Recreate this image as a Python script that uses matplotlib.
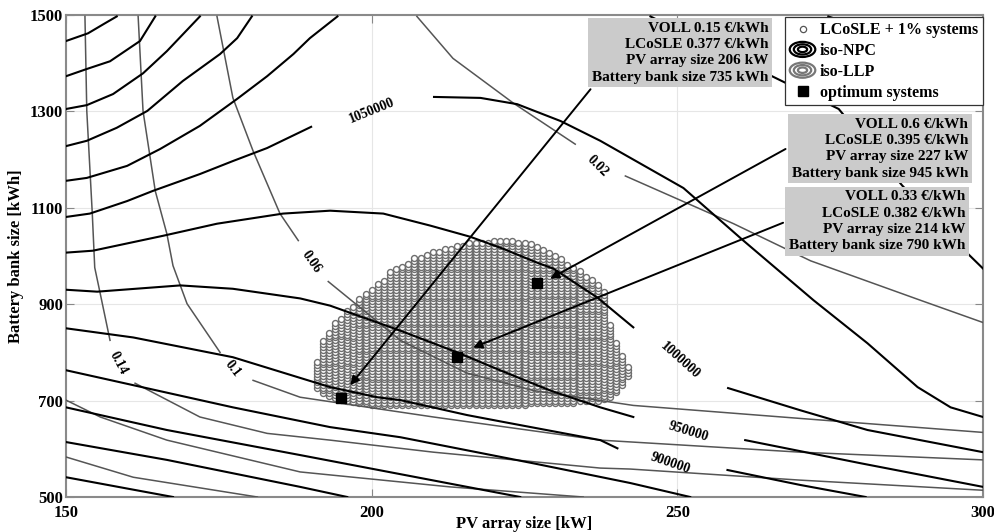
import numpy as np
import matplotlib
matplotlib.use("Agg")
import matplotlib.pyplot as plt
from matplotlib.lines import Line2D
from matplotlib.patches import Ellipse
from matplotlib.legend_handler import HandlerBase

plt.rcParams['font.family'] = ['Liberation Serif', 'DejaVu Serif']
plt.rcParams['font.weight'] = 'bold'

# iso-NPC curves (PV kW, battery kWh)
npc1 = [(150, 1446), (153.6, 1462), (156.4, 1483), (158.3, 1497)]
npc2 = [(150, 1373), (153.4, 1388), (157.2, 1404), (162.1, 1446), (164.6, 1497)]
npc3 = [(150, 1305), (153.4, 1313), (157.7, 1336), (162.6, 1379), (166.5, 1425), (171.9, 1497)]
npc4 = [(150, 1228), (153.4, 1239), (158.3, 1266), (163.3, 1301), (169.1, 1363), (175.2, 1419),
        (178, 1452), (180.4, 1497)]
npc5 = [(150, 1156), (153.4, 1162), (160, 1187), (165.4, 1222), (171.9, 1270), (178, 1326),
        (182.9, 1373), (187.2, 1419), (189.9, 1452), (194.4, 1497)]
npc_1050000a = [(150, 1081), (153.9, 1088), (160, 1114), (164.2, 1135), (171.9, 1170),
                (177.3, 1197), (182.9, 1224), (190.1, 1268)]
npc_1050000b = [(210.2, 1330), (217.8, 1328), (223.8, 1315), (230.9, 1280), (237.4, 1239),
                (251, 1141), (260.8, 1032), (272.3, 908), (281.1, 819), (289.3, 728),
                (294.7, 686), (300, 666)]
npc_1000000a = [(150, 1007), (154.4, 1011), (165.9, 1042), (174.7, 1067), (185.5, 1088),
                (193.2, 1094), (201.9, 1088), (209.6, 1063), (216.1, 1040), (221.5, 1015),
                (227.1, 986), (229.7, 974), (236.9, 914), (242.8, 852)]
npc_1000000b = [(258.3, 726), (270.1, 680), (281.1, 639), (300, 593)]
npc_950000a = [(150, 930), (155.1, 926), (168.7, 939), (177.3, 932), (188.3, 912), (193.2, 897),
               (204.7, 845), (214, 800), (221, 763), (229.2, 721), (237.4, 686), (242.8, 666)]
npc_950000b = [(261.1, 618), (280, 570), (300, 521)]
npc_900000a = [(150, 850), (161, 831), (177.3, 790), (193.2, 728), (200.9, 707), (204.7, 701),
               (215.6, 670), (221, 657), (237.4, 618), (240.2, 601)]
npc_900000b = [(258.2, 556), (270.1, 525), (280.8, 500)]
npc10 = [(150, 763), (161, 732), (177.3, 686), (193.2, 645), (204.7, 624), (226.4, 570),
         (242.3, 529), (252.1, 500)]
npc11 = [(150, 686), (166.5, 639), (188.3, 587), (224.3, 500)]
npc12 = [(150, 614), (166.5, 577), (188.3, 521), (196, 500)]
npc13 = [(150, 541), (167.5, 500)]
npc14 = [(245.6, 1497), (276.4, 1305), (286.8, 1146), (297.5, 1005), (300, 974)]
npc15 = [(274.7, 1497), (286.5, 1446), (300, 1392)]

# iso-LLP curves
llp_014a = [(153.1, 1497), (153.4, 1301), (154.3, 1088), (154.7, 976), (155.6, 922), (157.2, 825)]
llp_014b = [(161.3, 736), (171.9, 666), (182.9, 632), (193.2, 618), (210.1, 593), (237.4, 560),
            (242.3, 558), (270.1, 535), (300, 514)]
llp_01a = [(161.8, 1497), (162.6, 1301), (164.6, 1135), (166.5, 1046), (167.5, 980),
           (169.8, 901), (175.2, 800)]
llp_01b = [(180.6, 742), (188.3, 707), (210.1, 666), (237.4, 618), (270.1, 593), (300, 577)]
llp_006a = [(174.7, 1497), (177.3, 1328), (180.6, 1218), (185, 1088), (188, 1032)]
llp_006b = [(192.9, 947), (204.7, 825), (215.6, 757), (226.4, 721), (242.8, 690), (270.1, 663),
            (300, 634)]
llp_002a = [(207.4, 1497), (213.3, 1410), (223.2, 1317), (233.3, 1232)]
llp_002b = [(241.5, 1166), (259.2, 1067), (271.8, 990), (289.8, 908), (300, 862)]
llp5 = [(150, 701), (155.6, 666), (166.5, 618), (188.3, 552), (212.8, 521), (234.6, 500)]
llp6 = [(150, 583), (161, 541), (181.3, 500)]

# systems within 1% of the minimum LCoSLE: battery range for each PV size
pv_cols = list(range(191, 243))
batt_top = [783, 825, 843, 862, 874, 885, 897, 910, 922, 934, 943, 953, 966, 974, 982, 988,
            997, 1001, 1005, 1009, 1013, 1017, 1019, 1021, 1023, 1026, 1028, 1030, 1030, 1032,
            1032, 1032, 1032, 1030, 1028, 1026, 1021, 1015, 1009, 1003, 994, 986, 978, 970,
            961, 953, 943, 928, 860, 821, 794, 773]
batt_bot = [726, 715, 709, 705, 701, 699, 697, 694, 694] + [690] * 26 + [694] * 8 + \
           [699] * 4 + [703, 707, 717, 732, 752]
batt_step = 6

# optimum systems
opt_pv = [195, 214, 227]
opt_batt = [705, 790, 945]

box_texts = ["VOLL 0.15 €/kWh\nLCoSLE 0.377 €/kWh\nPV array size 206 kW\nBattery bank size 735 kWh",
             "VOLL 0.6 €/kWh\nLCoSLE 0.395 €/kWh\nPV array size 227 kW\nBattery bank size 945 kWh",
             "VOLL 0.33 €/kWh\nLCoSLE 0.382 €/kWh\nPV array size 214 kW\nBattery bank size 790 kWh"]

npc_lines = [npc1, npc2, npc3, npc4, npc5, npc_1050000a, npc_1050000b, npc_1000000a,
             npc_1000000b, npc_950000a, npc_950000b, npc_900000a, npc_900000b, npc10, npc11,
             npc12, npc13, npc14, npc15]
llp_lines = [llp_014a, llp_014b, llp_01a, llp_01b, llp_006a, llp_006b, llp_002a, llp_002b,
             llp5, llp6]


class HandlerRings(HandlerBase):
    def __init__(self, color):
        HandlerBase.__init__(self)
        self.color = color

    def create_artists(self, legend, orig_handle, xdescent, ydescent, width, height,
                       fontsize, trans):
        cx = 0.5 * width - xdescent
        cy = 0.5 * height - ydescent
        out = []
        for s in (1.0, 0.68, 0.36):
            e = Ellipse((cx, cy), width * s, height * 1.35 * s, fill=False,
                        ec=self.color, lw=1.6, transform=trans)
            out.append(e)
        return out


fig = plt.figure(figsize=(9.95, 5.32), dpi=100)
ax = fig.add_axes([66 / 995, 35 / 532, 917 / 995, 482 / 532])

ax.set_xlim(150, 300)
ax.set_ylim(500, 1500)
ax.set_xticks([150, 200, 250, 300])
ax.set_yticks([500, 700, 900, 1100, 1300, 1500])
ax.grid(True, color='#e6e6e6', lw=0.8)
ax.set_axisbelow(True)
ax.tick_params(direction='in', length=6, top=True, right=True, color='#888888',
               labelsize=12, pad=2)
ax.tick_params(axis='x', pad=6)
for sp in ax.spines.values():
    sp.set_color('#8a8a8a')
    sp.set_linewidth(1.5)

# LCoSLE + 1% blob
bx, by = [], []
for pv, lo, hi in zip(pv_cols, batt_bot, batt_top):
    vals = np.arange(lo, hi + 1e-6, batt_step)
    bx.extend([pv] * len(vals))
    by.extend(vals)
ax.plot(bx, by, ls='', marker='o', ms=4.3, mfc='white', mec='#6e6e6e', mew=1.0, zorder=2)

for c in llp_lines:
    xs, ys = zip(*c)
    ax.plot(xs, ys, color='#555555', lw=1.1, zorder=3)
for c in npc_lines:
    xs, ys = zip(*c)
    ax.plot(xs, ys, color='black', lw=1.5, zorder=3)

# contour labels
lab_kw = dict(fontsize=10, fontweight='bold', ha='center', va='center', zorder=4)
ax.text(200.1, 1301, '1050000', rotation=22, **lab_kw)
ax.text(250.5, 783, '1000000', rotation=-42, **lab_kw)
ax.text(251.8, 636, '950000', rotation=-17, **lab_kw)
ax.text(248.9, 570, '900000', rotation=-19, **lab_kw)
ax.text(236.9, 1187, '0.02', rotation=-45, **lab_kw)
ax.text(190.1, 988, '0.06', rotation=-55, **lab_kw)
ax.text(177.3, 767, '0.1', rotation=-52, **lab_kw)
ax.text(158.5, 777, '0.14', rotation=-62, **lab_kw)

ax.plot(opt_pv, opt_batt, ls='', marker='s', ms=6.5, color='black', zorder=5)

# arrows from the info boxes to the optima
arr = dict(arrowstyle='-|>', color='black', lw=1.4, mutation_scale=13, shrinkA=0, shrinkB=0)
ax.annotate('', xy=(196.5, 732), xytext=(235.8, 1346), arrowprops=arr, zorder=6)
ax.annotate('', xy=(229.2, 953), xytext=(267.7, 1222), arrowprops=arr, zorder=6)
ax.annotate('', xy=(216.6, 810), xytext=(267.3, 1069), arrowprops=arr, zorder=6)

box_kw = dict(fontsize=11, fontweight='bold', ha='right', va='top', linespacing=1.33,
              zorder=7, bbox=dict(boxstyle='square,pad=0.25', fc='#cbcbcb', ec='none'))
ax.text(264.9, 1486, box_texts[0], **box_kw)
ax.text(297.6, 1287, box_texts[1], **box_kw)
ax.text(297.1, 1136, box_texts[2], **box_kw)

h_blob = Line2D([], [], ls='', marker='o', ms=4.5, mfc='white', mec='#555555', mew=0.9)
h_npc = Line2D([], [], color='black')
h_llp = Line2D([], [], color='#777777')
h_opt = Line2D([], [], ls='', marker='s', ms=6.5, color='black')
leg = ax.legend([h_blob, h_npc, h_llp, h_opt],
                ['LCoSLE + 1% systems', 'iso-NPC', 'iso-LLP', 'optimum systems'],
                handler_map={h_npc: HandlerRings('black'), h_llp: HandlerRings('#777777')},
                loc='upper right', bbox_to_anchor=(1.0, 0.995), borderaxespad=0,
                fancybox=False, framealpha=1, edgecolor='#333333', handlelength=1.6,
                handletextpad=0.3, labelspacing=0.3, borderpad=0.3,
                prop={'size': 11.5, 'weight': 'bold'})
leg.set_zorder(8)
leg.get_frame().set_linewidth(0.9)

ax.set_xlabel('PV array size [kW]', fontsize=12, fontweight='bold', labelpad=-4)
ax.set_ylabel('Battery bank size [kWh]', fontsize=12, fontweight='bold', labelpad=4)

fig.savefig('out.png', dpi=100)
